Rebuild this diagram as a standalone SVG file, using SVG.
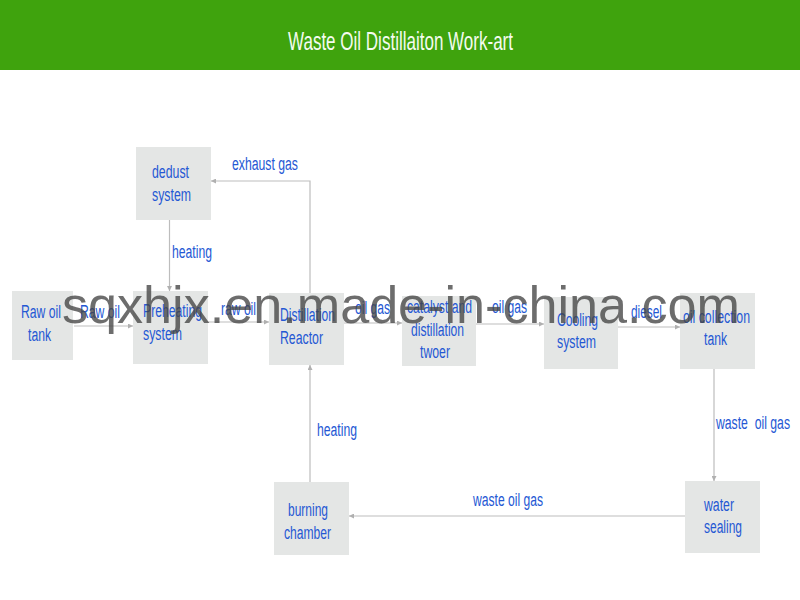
<svg xmlns="http://www.w3.org/2000/svg" width="800" height="600" viewBox="0 0 800 600">
<style>
.box{fill:#e4e6e5}
.t{font-family:"Liberation Sans",Arial,sans-serif;font-size:18px;fill:#2458d4;white-space:pre}
.c{fill:none;stroke:#bdbdbd;stroke-width:1.2;marker-end:url(#a)}
.title{font-family:"Liberation Sans",Arial,sans-serif;font-size:25px;fill:#f4fbef}
.wm{font-family:"Liberation Sans",Arial,sans-serif;font-size:52px;fill:#444;fill-opacity:.78}
</style>
<defs><marker id="a" markerWidth="6" markerHeight="5" refX="5" refY="2.500" orient="auto" markerUnits="userSpaceOnUse"><path d="M0 0L5 2.500L0 5z" fill="#b0b0b0"/></marker></defs>
<rect width="800" height="600" fill="#fff"/>
<g id="header"><rect width="800" height="70" fill="#3fa30d"/><text class="title" x="288" y="50" textLength="225" lengthAdjust="spacingAndGlyphs">Waste Oil Distillaiton Work-art</text></g>
<g id="connectors">
<path class="c" d="M74 326H133"/>
<path class="c" d="M208 322H269"/>
<path class="c" d="M344 323H402"/>
<path class="c" d="M476 324H544"/>
<path class="c" d="M618 327H680"/>
<path class="c" d="M714 369V481"/>
<path class="c" d="M685 516H349"/>
<path class="c" d="M310 482V365"/>
<path class="c" d="M310 293V181H211"/>
<path class="c" d="M169.500 220V291"/>
</g>
<g id="node-raw-oil-tank"><rect class="box" x="12" y="291" width="61" height="69"/><text class="t" x="21" y="318" textLength="40" lengthAdjust="spacingAndGlyphs">Raw oil</text><text class="t" x="28" y="341" textLength="23" lengthAdjust="spacingAndGlyphs">tank</text></g>
<g id="node-preheating"><rect class="box" x="133" y="291" width="75" height="73"/><text class="t" x="143" y="317" textLength="59" lengthAdjust="spacingAndGlyphs">Preheating</text><text class="t" x="143" y="340" textLength="39" lengthAdjust="spacingAndGlyphs">system</text></g>
<g id="node-reactor"><rect class="box" x="269" y="293" width="75" height="72"/><text class="t" x="280" y="321" textLength="55" lengthAdjust="spacingAndGlyphs">Distillation</text><text class="t" x="280" y="344" textLength="43" lengthAdjust="spacingAndGlyphs">Reactor</text></g>
<g id="node-catalyst"><rect class="box" x="402" y="296" width="74" height="70"/><text class="t" x="407" y="313" textLength="65" lengthAdjust="spacingAndGlyphs">catalyst and</text><text class="t" x="411" y="336" textLength="53" lengthAdjust="spacingAndGlyphs">distillation</text><text class="t" x="420" y="358" textLength="30" lengthAdjust="spacingAndGlyphs">twoer</text></g>
<g id="node-cooling"><rect class="box" x="544" y="297" width="74" height="72"/><text class="t" x="557" y="326" textLength="41" lengthAdjust="spacingAndGlyphs">Cooling</text><text class="t" x="557" y="348" textLength="39" lengthAdjust="spacingAndGlyphs">system</text></g>
<g id="node-oil-collection"><rect class="box" x="680" y="293" width="75" height="76"/><text class="t" x="683" y="323" textLength="67" lengthAdjust="spacingAndGlyphs">oil collection</text><text class="t" x="704" y="345" textLength="23" lengthAdjust="spacingAndGlyphs">tank</text></g>
<g id="node-dedust"><rect class="box" x="136" y="147" width="75" height="73"/><text class="t" x="152" y="178" textLength="37" lengthAdjust="spacingAndGlyphs">dedust</text><text class="t" x="152" y="201" textLength="39" lengthAdjust="spacingAndGlyphs">system</text></g>
<g id="node-burning"><rect class="box" x="274" y="482" width="75" height="73"/><text class="t" x="288" y="516" textLength="40" lengthAdjust="spacingAndGlyphs">burning</text><text class="t" x="284" y="539" textLength="47" lengthAdjust="spacingAndGlyphs">chamber</text></g>
<g id="node-water"><rect class="box" x="685" y="481" width="75" height="72"/><text class="t" x="704" y="511" textLength="30" lengthAdjust="spacingAndGlyphs">water</text><text class="t" x="704" y="533" textLength="38" lengthAdjust="spacingAndGlyphs">sealing</text></g>
<g id="labels">
<text class="t" x="232" y="170" textLength="66" lengthAdjust="spacingAndGlyphs">exhaust gas</text>
<text class="t" x="172" y="258" textLength="40" lengthAdjust="spacingAndGlyphs">heating</text>
<text class="t" x="80" y="318" textLength="40" lengthAdjust="spacingAndGlyphs">Raw oil</text>
<text class="t" x="221" y="315" textLength="35" lengthAdjust="spacingAndGlyphs">raw oil</text>
<text class="t" x="355" y="314" textLength="35" lengthAdjust="spacingAndGlyphs">oil gas</text>
<text class="t" x="492" y="313" textLength="35" lengthAdjust="spacingAndGlyphs">oil gas</text>
<text class="t" x="631" y="318" textLength="31" lengthAdjust="spacingAndGlyphs">diesel</text>
<text class="t" x="716" y="429" textLength="74" lengthAdjust="spacingAndGlyphs">waste  oil gas</text>
<text class="t" x="317" y="436" textLength="40" lengthAdjust="spacingAndGlyphs">heating</text>
<text class="t" x="473" y="506" textLength="70" lengthAdjust="spacingAndGlyphs">waste oil gas</text>
</g>
<text class="wm" x="62" y="323" textLength="678" lengthAdjust="spacingAndGlyphs">sqxhjx.en.made-in-china.com</text>
</svg>
